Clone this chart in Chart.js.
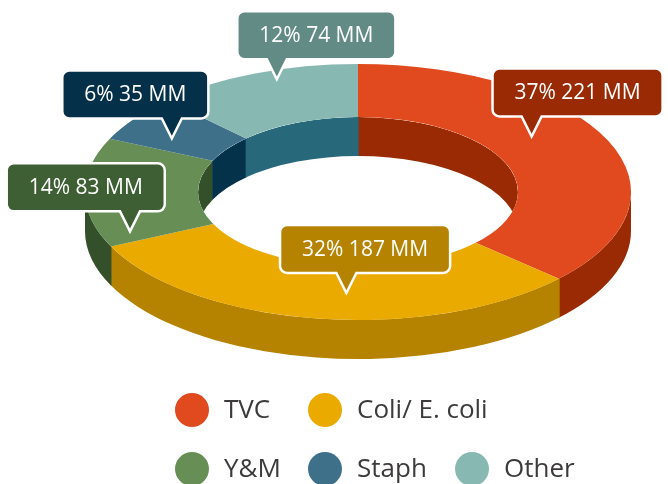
<!DOCTYPE html>
<html>

<head>
  <meta charset="utf-8">
  <title>Doughnut 3D</title>
  <style>
    html, body { margin: 0; padding: 0; background: #ffffff; }
    #chart { display: block; }
  </style>
  <script src="https://cdn.jsdelivr.net/npm/chart.js"></script>
</head>

<body>
  <canvas id="chart" width="668" height="484"></canvas>

  <script>
    var labels = ["TVC", "Coli/ E. coli", "Y&M", "Staph", "Other"];
    var values = [221, 187, 83, 35, 74];
    var percents = [37, 32, 14, 6, 12];

    var topColors = ["#E04A1E", "#EAAA00", "#678F55", "#3F7089", "#88B8B2"];
    var sideColors = ["#992A04", "#B58300", "#34502B", "#03324A", "#27687A"];
    var tagColors = ["#992A04", "#B58300", "#3E5E33", "#05304A", "#628B86"];

    // the ring as seen in perspective
    var ring = { cx: 358, cy: 192, rx: 273, ry: 128, depth: 39, cut: 0.586 };

    // callouts: how far along the slice, how far out, where the tip sits under the box
    var tagPlace = [
      { along: 0.42, r: 0.77, tipAt: 0.23 },
      { along: 0.45, r: 0.79, tipAt: 0.39 },
      { along: 0.10, r: 0.89, tipAt: 0.78 },
      { along: 0.33, r: 0.80, tipAt: 0.75 },
      { along: 0.58, r: 0.93, tipAt: 0.25 }
    ];

    // legend grid: row and column of each entry
    var legendRow = [0, 0, 1, 1, 1];
    var legendCol = [0, 1, 0, 1, 2];

    function clipRange(a1, a2, lo, hi) {
      var s = Math.max(a1, lo), e = Math.min(a2, hi);
      return s < e ? [s, e] : null;
    }

    function band(ctx, rx, ry, s, e) {
      ctx.beginPath();
      ctx.ellipse(ring.cx, ring.cy, rx, ry, 0, s, e, false);
      ctx.ellipse(ring.cx, ring.cy + ring.depth, rx, ry, 0, e, s, true);
      ctx.closePath();
      ctx.fill();
    }

    function drawTag(ctx, text, tipX, tipY, tipAt, color) {
      ctx.font = '21px "Open Sans"';
      var w = ctx.measureText(text).width + 44;
      var h = 48, ph = 20, pw = 10, r = 7;
      var bx = tipX - tipAt * w, by = tipY - ph - h;
      ctx.beginPath();
      ctx.moveTo(bx + r, by);
      ctx.lineTo(bx + w - r, by);
      ctx.arcTo(bx + w, by, bx + w, by + r, r);
      ctx.lineTo(bx + w, by + h - r);
      ctx.arcTo(bx + w, by + h, bx + w - r, by + h, r);
      ctx.lineTo(tipX + pw, by + h);
      ctx.lineTo(tipX, tipY);
      ctx.lineTo(tipX - pw, by + h);
      ctx.lineTo(bx + r, by + h);
      ctx.arcTo(bx, by + h, bx, by + h - r, r);
      ctx.lineTo(bx, by + r);
      ctx.arcTo(bx, by, bx + r, by, r);
      ctx.closePath();
      ctx.fillStyle = color;
      ctx.fill();
      ctx.lineWidth = 2.5;
      ctx.strokeStyle = "#ffffff";
      ctx.stroke();
      ctx.fillStyle = "#ffffff";
      ctx.textAlign = "center";
      ctx.textBaseline = "middle";
      ctx.fillText(text, bx + w / 2, by + h / 2 + 1);
    }

    var ring3d = {
      id: "ring3d",
      beforeDatasetsDraw: function (chart) {
        var ctx = chart.ctx;
        var arcs = chart.getDatasetMeta(0).data;
        var irx = ring.rx * ring.cut, iry = ring.ry * ring.cut;

        // inner wall, far half, seen through the hole
        ctx.save();
        ctx.beginPath();
        ctx.ellipse(ring.cx, ring.cy, irx, iry, 0, 0, Math.PI * 2);
        ctx.clip();
        arcs.forEach(function (arc, i) {
          ctx.fillStyle = sideColors[i];
          [[-Math.PI, 0], [Math.PI, Math.PI * 2]].forEach(function (win) {
            var rg = clipRange(arc.startAngle - 0.004, arc.endAngle + 0.004, win[0], win[1]);
            if (rg) band(ctx, irx, iry, rg[0], rg[1]);
          });
        });
        ctx.restore();

        // outer wall, near half
        ctx.save();
        arcs.forEach(function (arc, i) {
          ctx.fillStyle = sideColors[i];
          var rg = clipRange(arc.startAngle - 0.004, arc.endAngle + 0.004, 0, Math.PI);
          if (rg) band(ctx, ring.rx, ring.ry, rg[0], rg[1]);
        });
        ctx.restore();

        // squash the library's circle onto the top face
        var a0 = arcs[0];
        ctx.save();
        ctx.translate(ring.cx, ring.cy);
        ctx.scale(ring.rx / a0.outerRadius, ring.ry / a0.outerRadius);
        ctx.translate(-a0.x, -a0.y);
      },
      afterDatasetsDraw: function (chart) {
        var ctx = chart.ctx;
        ctx.restore();
        var arcs = chart.getDatasetMeta(0).data;

        arcs.forEach(function (arc, i) {
          var p = tagPlace[i];
          var a = arc.startAngle + p.along * (arc.endAngle - arc.startAngle);
          var tx = ring.cx + p.r * ring.rx * Math.cos(a);
          var ty = ring.cy + p.r * ring.ry * Math.sin(a);
          drawTag(ctx, percents[i] + "% " + values[i] + " MM", tx, ty, p.tipAt, tagColors[i]);
        });

        // legend
        ctx.save();
        ctx.font = '26px "Open Sans"';
        ctx.textAlign = "left";
        ctx.textBaseline = "middle";
        var colX = [192, 325, 472], rowY = [410, 469];
        chart.data.labels.forEach(function (lab, i) {
          var x = colX[legendCol[i]], y = rowY[legendRow[i]];
          ctx.beginPath();
          ctx.arc(x, y, 17, 0, Math.PI * 2);
          ctx.fillStyle = chart.data.datasets[0].backgroundColor[i];
          ctx.fill();
          ctx.fillStyle = "#3C3A3B";
          ctx.fillText(lab, x + 32, y + 1);
        });
        ctx.restore();
      }
    };

    var chart = new Chart(document.getElementById("chart"), {
      type: "doughnut",
      data: {
        labels: labels,
        datasets: [{
          data: values,
          backgroundColor: topColors,
          borderWidth: 0,
          hoverOffset: 0,
          clip: false
        }]
      },
      options: {
        responsive: false,
        animation: false,
        events: [],
        cutout: (ring.cut * 100) + "%",
        plugins: {
          legend: { display: false },
          tooltip: { enabled: false }
        }
      },
      plugins: [ring3d]
    });
  </script>

</body>

</html>
